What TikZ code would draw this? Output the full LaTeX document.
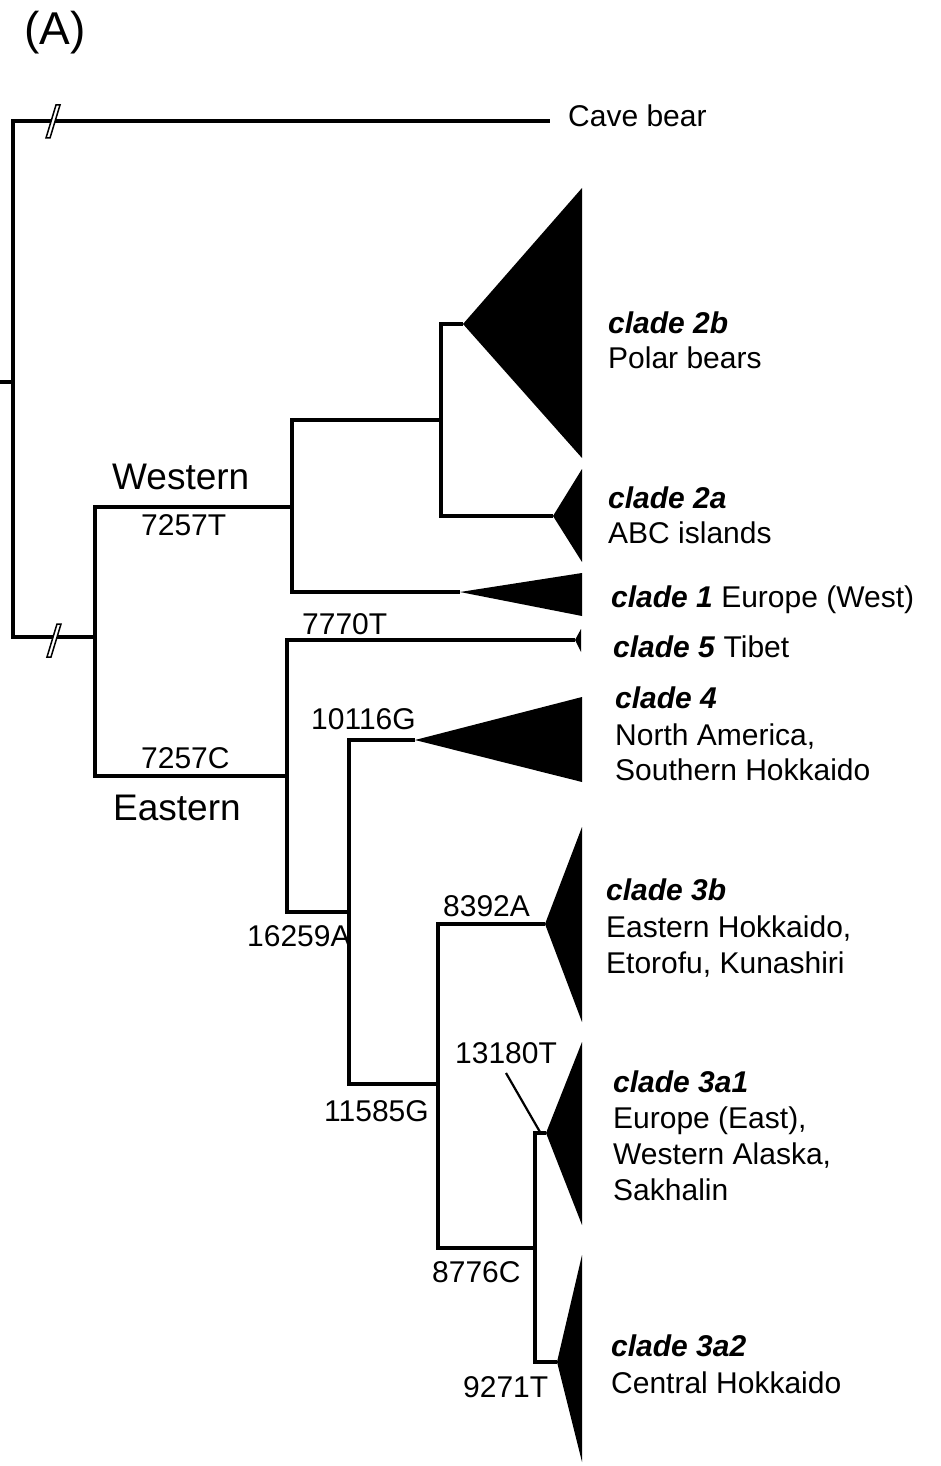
\documentclass[tikz,border=0pt]{standalone}
\usepackage{fontspec}
\setmainfont{Liberation Sans}
\begin{document}
\begin{tikzpicture}[x=1pt,y=-1pt,
  br/.style={line width=3.4pt},
  lab/.style={font=\fontsize{30}{36}\selectfont, anchor=base west, inner sep=0pt},
  big/.style={font=\fontsize{37}{44}\selectfont, anchor=base west, inner sep=0pt},
  clade/.style={fill=black},
  brk/.style={fill=white, draw=black, line width=1.5pt}]
\useasboundingbox (0,0) rectangle (940,1466);
% internal nodes
\coordinate (s) at (0,382);
\coordinate (r) at (13,382);
\coordinate (cb) at (550,121);
\coordinate (u) at (95,637);
\coordinate (W) at (292,507);
\coordinate (W1) at (441,420);
\coordinate (E) at (287,776);
\coordinate (E2) at (349,912);
\coordinate (E3) at (438,1084);
\coordinate (E4) at (535,1248);
% clade apices
\coordinate (a2b) at (463,324);
\coordinate (a2a) at (553,516);
\coordinate (a1) at (460,592);
\coordinate (a5) at (575,640);
\coordinate (a4) at (415,740);
\coordinate (a3b) at (545,924);
\coordinate (a3a1) at (546,1133);
\coordinate (a3a2) at (557,1362);
% branches
\draw[br] (s) -- (r);
\draw[br] (r) |- (cb);
\draw[br] (r) |- (u);
\draw[br] (u) |- (W);
\draw[br] (u) |- (E);
\draw[br] (W) |- (W1);
\draw[br] (W) |- (a1);
\draw[br] (W1) |- (a2b);
\draw[br] (W1) |- (a2a);
\draw[br] (E) |- (a5);
\draw[br] (E) |- (E2);
\draw[br] (E2) |- (a4);
\draw[br] (E2) |- (E3);
\draw[br] (E3) |- (a3b);
\draw[br] (E3) |- (E4);
\draw[br] (E4) |- (a3a1);
\draw[br] (E4) |- (a3a2);
% break marks
\filldraw[brk] (46,138) -- (50,138) -- (60,105) -- (56,105) -- cycle;
\filldraw[brk] (47,657) -- (51,657) -- (61,624) -- (57,624) -- cycle;
% collapsed clades
\fill[clade] (a2b) -- (582,188) -- (582,458) -- cycle;
\fill[clade] (a2a) -- (582,469) -- (582,562) -- cycle;
\fill[clade] (a1) -- (582,573) -- (582,616) -- cycle;
\fill[clade] (a5) -- (581,629) -- (581,652) -- cycle;
\fill[clade] (a4) -- (582,697) -- (582,782) -- cycle;
\fill[clade] (a3b) -- (582,827) -- (582,1022) -- cycle;
\fill[clade] (a3a1) -- (582,1042) -- (582,1225) -- cycle;
\fill[clade] (a3a2) -- (582,1255) -- (582,1462) -- cycle;
% pointer for 13180T
\coordinate (p13) at (506,1073);
\draw[line width=2.2pt] (p13) -- (540,1132);
% panel label
\node[font=\fontsize{46}{55}\selectfont, anchor=base west, inner sep=0pt] (A) at (24,45) {(A)};
% tree labels
\node[big] (lw) at (112,489) {Western};
\node[big] (le) at (113,820) {Eastern};
\node[lab] (m1) at (141,535) {7257T};
\node[lab] (m2) at (141,768) {7257C};
\node[lab] (m3) at (302,634) {7770T};
\node[lab] (m4) at (311,729) {10116G};
\node[lab] (m5) at (247,946) {16259A};
\node[lab] (m6) at (324,1121) {11585G};
\node[lab] (m7) at (443,916) {8392A};
\node[lab] (m8) at (455,1063) {13180T};
\node[lab] (m9) at (432,1282) {8776C};
\node[lab] (m10) at (463,1397) {9271T};
% tip labels
\node[lab] (t0) at (568,127) {Cave bear};
\node[lab] (t2b) at (608,333) {\textbf{\textit{clade 2b}}};
\node[lab] (t2bx) at (608,368) {Polar bears};
\node[lab] (t2a) at (608,508) {\textbf{\textit{clade 2a}}};
\node[lab] (t2ax) at (608,543) {ABC islands};
\node[lab] (t1) at (611,607) {\textbf{\textit{clade 1}} Europe (West)};
\node[lab] (t5) at (613,657) {\textbf{\textit{clade 5}} Tibet};
\node[lab] (t4) at (615,708) {\textbf{\textit{clade 4}}};
\node[lab] (t4x) at (615,745) {North America,};
\node[lab] (t4y) at (615,780) {Southern Hokkaido};
\node[lab] (t3b) at (606,900) {\textbf{\textit{clade 3b}}};
\node[lab] (t3bx) at (606,937) {Eastern Hokkaido,};
\node[lab] (t3by) at (606,973) {Etorofu, Kunashiri};
\node[lab] (t3a1) at (613,1092) {\textbf{\textit{clade 3a1}}};
\node[lab] (t3a1x) at (613,1128) {Europe (East),};
\node[lab] (t3a1y) at (613,1164) {Western Alaska,};
\node[lab] (t3a1z) at (613,1200) {Sakhalin};
\node[lab] (t3a2) at (611,1356) {\textbf{\textit{clade 3a2}}};
\node[lab] (t3a2x) at (611,1393) {Central Hokkaido};
\end{tikzpicture}
\end{document}
